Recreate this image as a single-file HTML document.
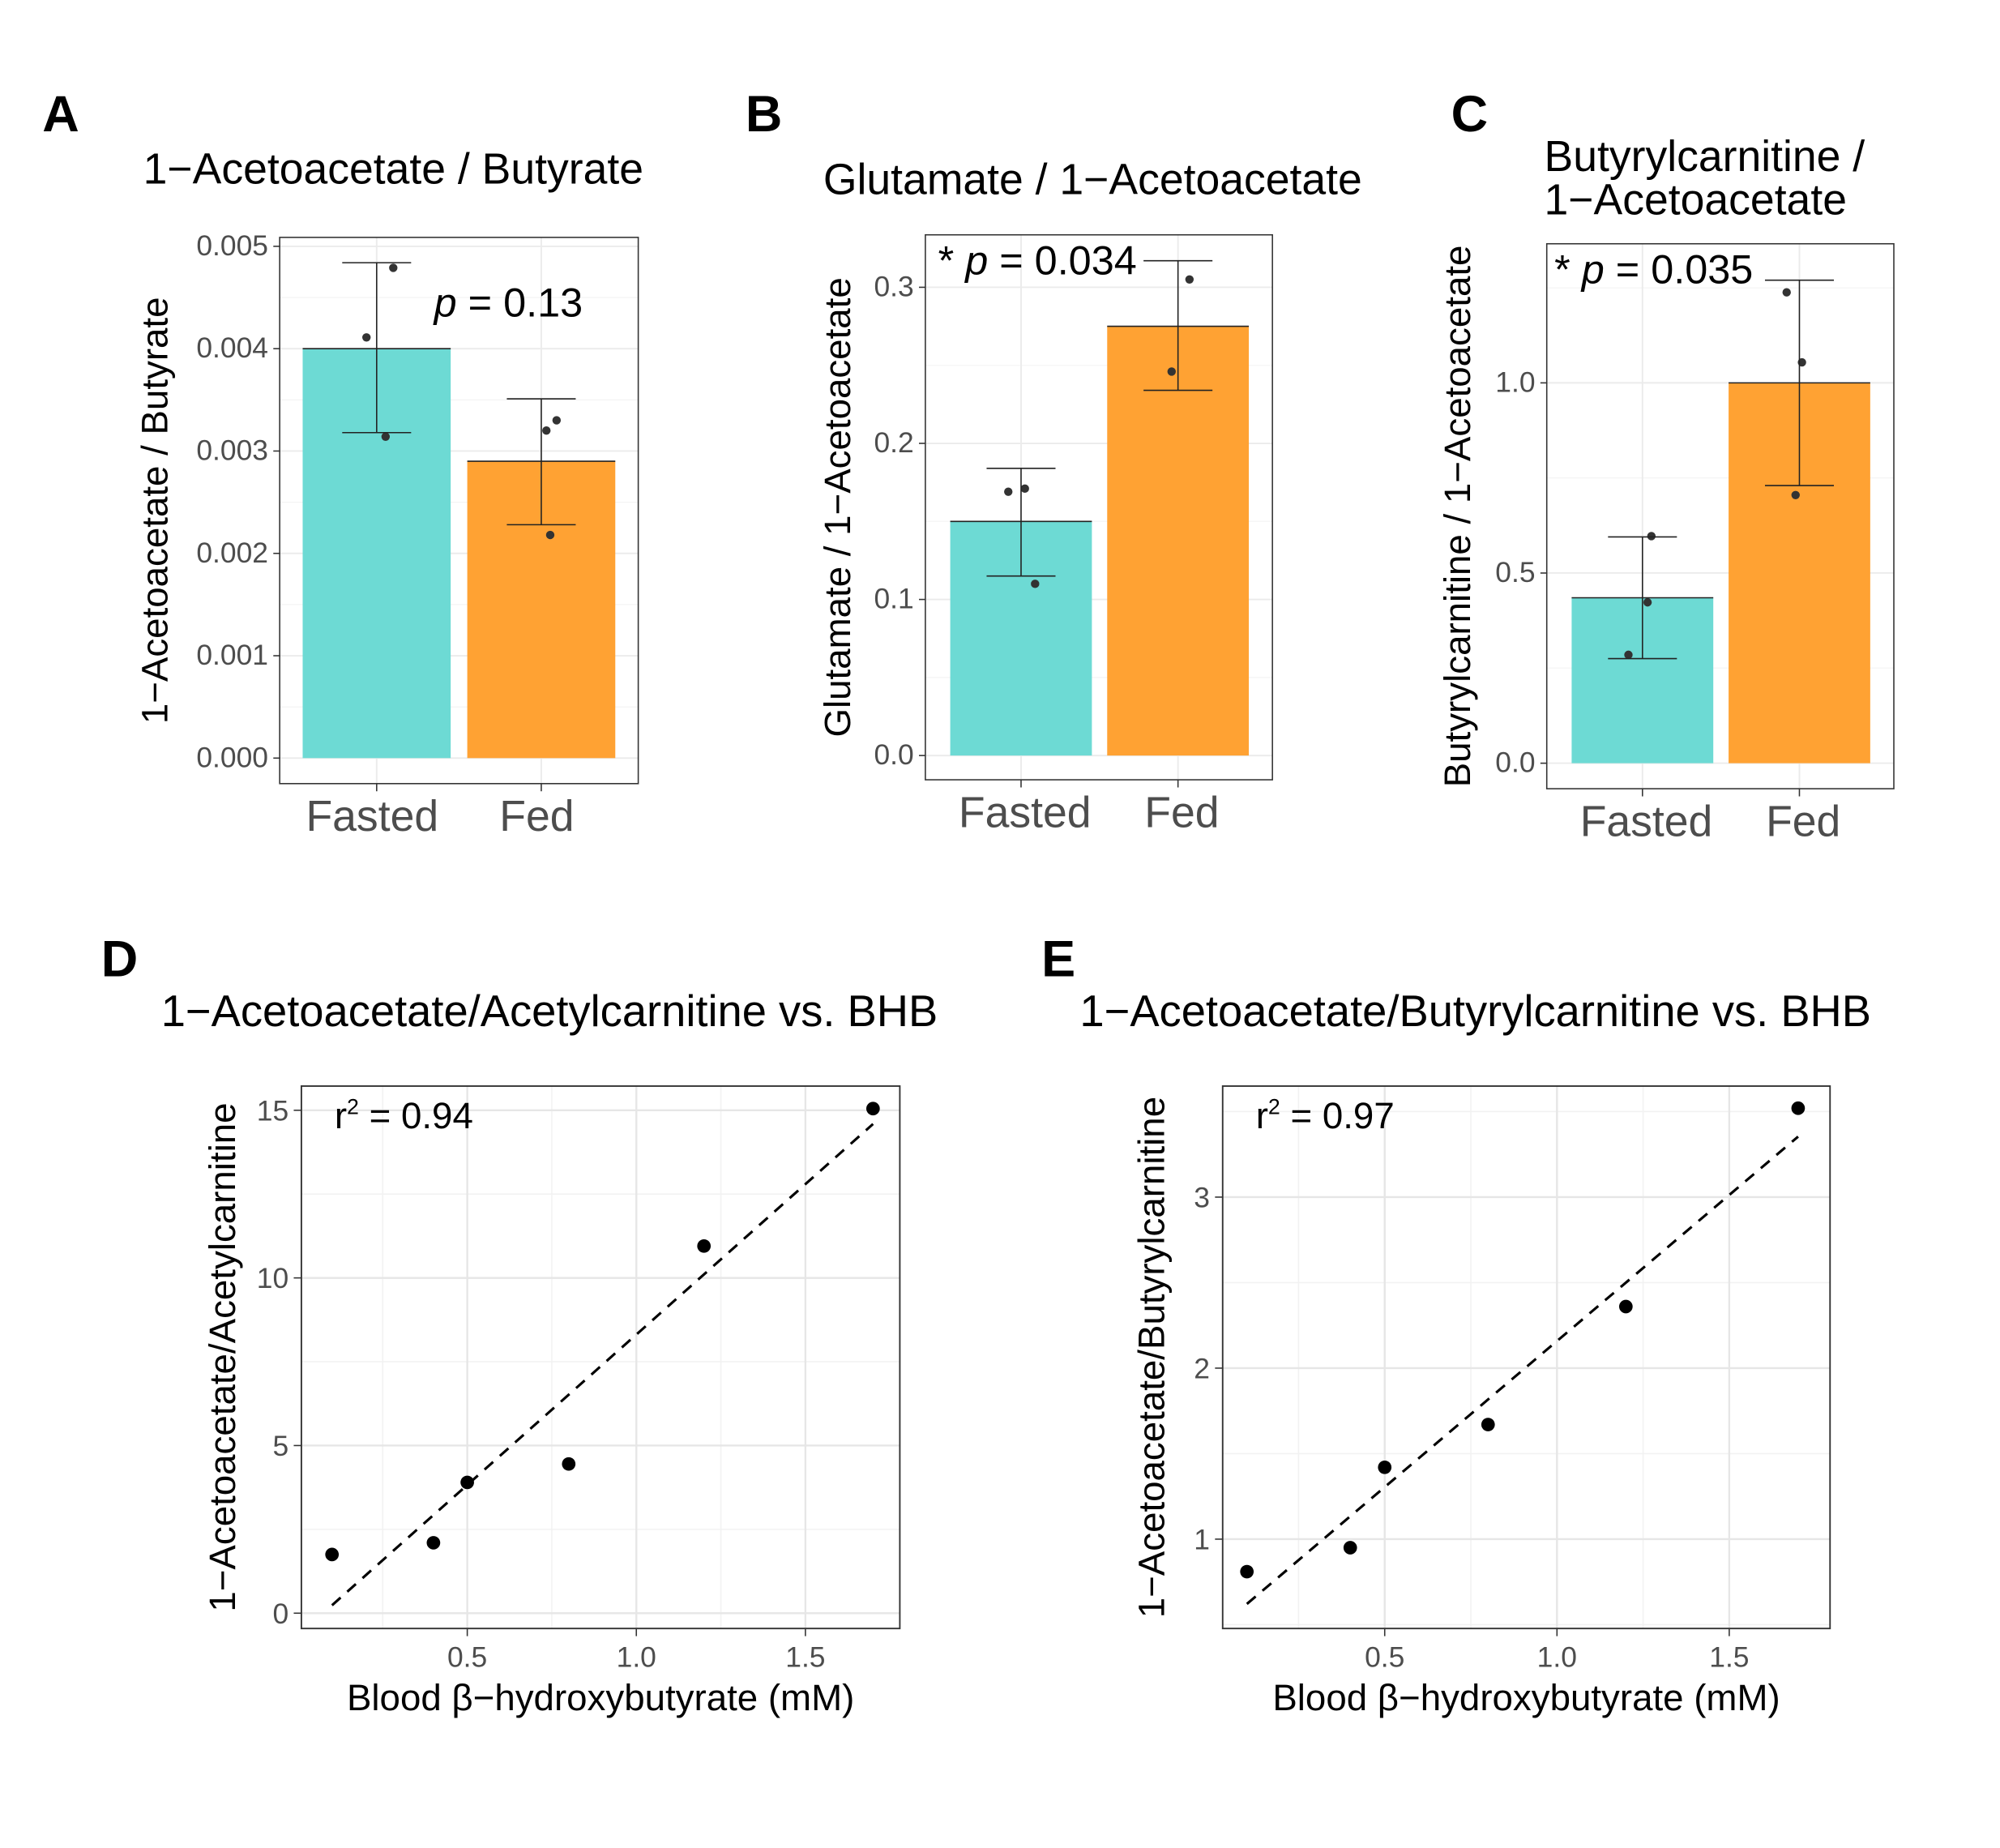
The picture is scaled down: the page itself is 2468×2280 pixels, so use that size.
<!DOCTYPE html>
<html><head><meta charset="utf-8"><style>
html,body{margin:0;padding:0;background:#fff}
svg{display:block;font-family:"Liberation Sans",Arial,sans-serif}
</style></head><body>
<svg id="fig" width="2468" height="2280" viewBox="0 0 1567 1448" xmlns="http://www.w3.org/2000/svg">
<rect width="1567" height="1448" fill="#fff"/>
<g font-weight="bold" font-size="40" fill="#000">
<text x="33" y="103">A</text>
<text x="584" y="103">B</text>
<text x="1137" y="103">C</text>
<text x="79" y="765">D</text>
<text x="816" y="765">E</text>
</g>
</svg>
<script>
// ---- data ----
const groups = ["Fasted","Fed"];
const aMeans = [0.0040, 0.0029];
const aLo = [0.00318, 0.00228];
const aHi = [0.00484, 0.00351];
const aPtsFasted = [0.00411, 0.00479, 0.00314];
const aPtsFed = [0.00320, 0.00330, 0.00218];
const aTicks = [0,0.001,0.002,0.003,0.004,0.005];
const aTickLabels = ["0.000","0.001","0.002","0.003","0.004","0.005"];

const bMeans = [0.150, 0.275];
const bLo = [0.115, 0.234];
const bHi = [0.184, 0.317];
const bPtsFasted = [0.169, 0.171, 0.110];
const bPtsFed = [0.305, 0.246];
const bTicks = [0,0.1,0.2,0.3];
const bTickLabels = ["0.0","0.1","0.2","0.3"];

const cMeans = [0.435, 1.0];
const cLo = [0.275, 0.73];
const cHi = [0.595, 1.27];
const cPtsFasted = [0.597, 0.423, 0.285];
const cPtsFed = [1.238, 1.054, 0.705];
const cTicks = [0,0.5,1.0];
const cTickLabels = ["0.0","0.5","1.0"];

const bhb = [0.1, 0.4, 0.5, 0.8, 1.2, 1.7];
const dVals = [1.75, 2.1, 3.9, 4.45, 10.95, 15.05];
const eVals = [0.81, 0.95, 1.42, 1.67, 2.36, 3.52];
const dYTicks = [0,5,10,15];
const eYTicks = [1,2,3];
const xTicks = [0.5,1.0,1.5];
const xTickLabels = ["0.5","1.0","1.5"];

// ---- helpers ----
const NS="http://www.w3.org/2000/svg";
const svg=document.getElementById('fig');
function el(tag,attrs,parent,text){const e=document.createElementNS(NS,tag);for(const k in attrs)e.setAttribute(k,attrs[k]);if(text!==undefined)e.textContent=text;(parent||svg).appendChild(e);return e;}
const COLORS=["#6DDAD4","#FFA233"];

function barPanel(o){
  const g=el('g',{});
  
  
  const y=v=>o.y0-(v/o.tstep)*o.tpx;
  const box=o.box;
  for(let i=0;i<o.ticks.length;i++){
    const yy=y(o.ticks[i]);
    const gl=el('line',{x1:box[0],x2:box[2],y1:yy,y2:yy,stroke:'#ebebeb','stroke-width':1.2},g);
    
    const ym=y(o.ticks[i]+o.tstep/2);
    if(ym>box[1]){const gm=el('line',{x1:box[0],x2:box[2],y1:ym,y2:ym,stroke:'#f4f4f4','stroke-width':0.8},g);
    }
  }
  o.cx.forEach(cx=>{const v=el('line',{x1:cx,x2:cx,y1:box[1],y2:box[3],stroke:'#ebebeb','stroke-width':1.2},g);
    });
  o.means.forEach((m,i)=>{
    const b=el('rect',{x:o.cx[i]-o.bw/2,y:y(m),width:o.bw,height:y(0)-y(m),fill:COLORS[i]},g);
    
    el('line',{x1:o.cx[i]-o.bw/2,x2:o.cx[i]+o.bw/2,y1:y(m),y2:y(m),stroke:'#222','stroke-width':1},g);
  });
  [o.pf,o.pd].forEach((pts,i)=>{
    pts.forEach((v,j)=>{
      const c=el('circle',{cx:o.cx[i]+o.jit[i][j],cy:y(v),r:3.3,fill:'#333'},g);
      
    });
  });
  o.means.forEach((m,i)=>{
    const cx=o.cx[i],w=27;
    const e=el('path',{d:`M${cx-w},${y(o.hi[i])}H${cx+w}M${cx},${y(o.hi[i])}V${y(o.lo[i])}M${cx-w},${y(o.lo[i])}H${cx+w}`,stroke:'#222','stroke-width':1,fill:'none'},g);
    
  });
  const fr=el('rect',{x:box[0],y:box[1],width:box[2]-box[0],height:box[3]-box[1],fill:'none',stroke:'#333','stroke-width':1},g);
  
  o.ticks.forEach((t,i)=>{
    const yy=y(t);
    el('line',{x1:box[0]-5,x2:box[0],y1:yy,y2:yy,stroke:'#333'},g);
    const tl=el('text',{x:box[0]-9,y:yy+7,'text-anchor':'end','font-size':22.5,fill:'#4d4d4d'},g,o.tl[i]);
    
  });
  o.cx.forEach((cx,i)=>{
    el('line',{x1:cx,x2:cx,y1:box[3],y2:box[3]+6,stroke:'#333'},g);
    const t=el('text',{x:cx+o.lx,y:box[3]+37,'text-anchor':'middle','font-size':34,fill:'#4d4d4d'},g,groups[i]);
    
  });
  const cy=(box[1]+box[3])/2;
  const yt=el('text',{x:o.ytx,y:cy,'text-anchor':'middle','font-size':29,fill:'#000',transform:`rotate(-90 ${o.ytx} ${cy})`},g,o.ytitle);
  
  o.title.forEach((line,i)=>{
    const t=el('text',{x:o.tx,y:o.ty+i*34,'font-size':34,fill:'#000'},g,line);
    
  });
  const p=el('text',{x:o.px,y:o.py,'font-size':32,fill:'#000'},g);
  
  p.innerHTML=o.pstar+'<tspan font-style="italic">p</tspan> = '+o.pval;
}

barPanel({name:'panel-a',box:[219,186,500,614],y0:594,tstep:0.001,tpx:80.2,cx:[295,424],bw:116,lx:-3.5,
  means:aMeans,lo:aLo,hi:aHi,pf:aPtsFasted,pd:aPtsFed,jit:[[-8,13,7],[4,12,7]],ticks:aTicks,tl:aTickLabels,
  ytx:131,ytitle:'1−Acetoacetate / Butyrate',title:['1−Acetoacetate / Butyrate'],tx:112,ty:144,px:340,py:248,pstar:'',pval:'0.13'});
barPanel({name:'panel-b',box:[725,184,997,611],y0:592,tstep:0.1,tpx:122.3,cx:[800,923],bw:111,lx:3,
  means:bMeans,lo:bLo,hi:bHi,pf:bPtsFasted,pd:bPtsFed,jit:[[-10,3,11],[9,-5]],ticks:bTicks,tl:bTickLabels,
  ytx:666,ytitle:'Glutamate / 1−Acetoacetate',title:['Glutamate / 1−Acetoacetate'],tx:645,ty:152,px:735,py:215,pstar:'* ',pval:'0.034'});
barPanel({name:'panel-c',box:[1212,191,1484,618],y0:598,tstep:0.5,tpx:149,cx:[1287,1410],bw:111,lx:3,
  means:cMeans,lo:cLo,hi:cHi,pf:cPtsFasted,pd:cPtsFed,jit:[[7,4,-11],[-10,2,-3]],ticks:cTicks,tl:cTickLabels,
  ytx:1152,ytitle:'Butyrylcarnitine / 1−Acetoacetate',title:['Butyrylcarnitine /','1−Acetoacetate'],tx:1210,ty:134,px:1218,py:222,pstar:'* ',pval:'0.035'});

function scatterPanel(o){
  const g=el('g',{});
  
  
  const box=o.box;
  const X=v=>o.x0+v*o.xpx;
  const Y=v=>o.yb-(v-o.ybase)*o.ypx;
  const xs=[0.25,0.75,1.25];
  xs.forEach(v=>{const l=el('line',{x1:X(v),x2:X(v),y1:box[1],y2:box[3],stroke:'#f2f2f2','stroke-width':1},g);
    });
  o.yminor.forEach(v=>{const yy=Y(v);if(yy>box[1]&&yy<box[3]){const l=el('line',{x1:box[0],x2:box[2],y1:yy,y2:yy,stroke:'#f2f2f2','stroke-width':1},g);
    }});
  xTicks.forEach(v=>{const l=el('line',{x1:X(v),x2:X(v),y1:box[1],y2:box[3],stroke:'#e6e6e6','stroke-width':1.5},g);
    });
  o.yticks.forEach(v=>{const l=el('line',{x1:box[0],x2:box[2],y1:Y(v),y2:Y(v),stroke:'#e6e6e6','stroke-width':1.5},g);
    });
  const n=bhb.length,mx=bhb.reduce((a,b)=>a+b)/n,my=o.vals.reduce((a,b)=>a+b)/n;
  let sxy=0,sxx=0;bhb.forEach((x,i)=>{sxy+=(x-mx)*(o.vals[i]-my);sxx+=(x-mx)*(x-mx);});
  const sl=sxy/sxx,ic=my-sl*mx;
  const xmin=Math.min(...bhb),xmax=Math.max(...bhb);
  const fl=el('line',{x1:X(xmin),y1:Y(ic+sl*xmin),x2:X(xmax),y2:Y(ic+sl*xmax),stroke:'#000','stroke-width':2,'stroke-dasharray':'9 7'},g);
  
  bhb.forEach((x,i)=>{const c=el('circle',{cx:X(x),cy:Y(o.vals[i]),r:5.3,fill:'#000'},g);
    });
  const fr=el('rect',{x:box[0],y:box[1],width:box[2]-box[0],height:box[3]-box[1],fill:'none',stroke:'#333','stroke-width':1.2},g);
  
  xTicks.forEach((v,i)=>{el('line',{x1:X(v),x2:X(v),y1:box[3],y2:box[3]+6,stroke:'#333'},g);
    const t=el('text',{x:X(v),y:box[3]+30,'text-anchor':'middle','font-size':22.5,fill:'#4d4d4d'},g,xTickLabels[i]);
    });
  o.yticks.forEach(v=>{el('line',{x1:box[0]-6,x2:box[0],y1:Y(v),y2:Y(v),stroke:'#333'},g);
    const t=el('text',{x:box[0]-10,y:Y(v)+8,'text-anchor':'end','font-size':22.5,fill:'#4d4d4d'},g,String(v));
    });
  const xt=el('text',{x:(box[0]+box[2])/2,y:1340,'text-anchor':'middle','font-size':29,fill:'#000'},g,'Blood β−hydroxybutyrate (mM)');
  
  const cy=(box[1]+box[3])/2;
  const yt=el('text',{x:o.ytx,y:cy,'text-anchor':'middle','font-size':29,fill:'#000',transform:`rotate(-90 ${o.ytx} ${cy})`},g,o.ytitle);
  
  const t=el('text',{x:o.tx,y:804,'font-size':34.5,fill:'#000'},g,o.title);
  
  const r=el('text',{x:box[0]+26,y:884,'font-size':29,fill:'#000'},g);
  
  r.innerHTML='r<tspan font-size="17" dy="-11">2</tspan><tspan dy="11"> = '+o.r2+'</tspan>';
}
scatterPanel({name:'panel-d',box:[236,851,705,1276],x0:233.5,xpx:265,yb:1264,ybase:0,ypx:26.27,
  vals:dVals,yticks:dYTicks,yminor:[2.5,7.5,12.5],ytx:184,ytitle:'1−Acetoacetate/Acetylcarnitine',
  title:'1−Acetoacetate/Acetylcarnitine vs. BHB',tx:126,r2:'0.94'});
scatterPanel({name:'panel-e',box:[958,851,1434,1276],x0:950,xpx:270,yb:1206,ybase:1,ypx:134,
  vals:eVals,yticks:eYTicks,yminor:[0.5,1.5,2.5,3.5],ytx:912,ytitle:'1−Acetoacetate/Butyrylcarnitine',
  title:'1−Acetoacetate/Butyrylcarnitine vs. BHB',tx:846,r2:'0.97'});
</script>
</body></html>
